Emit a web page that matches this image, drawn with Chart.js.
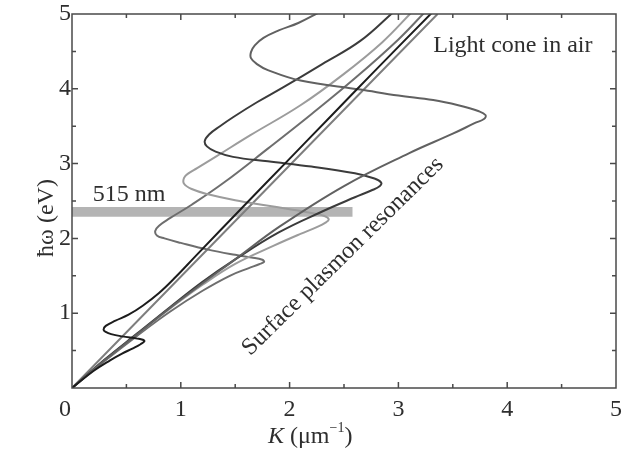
<!DOCTYPE html>
<html>
<head>
<meta charset="utf-8">
<script src="https://cdn.jsdelivr.net/npm/chart.js"></script>
<style>
  html, body { margin: 0; padding: 0; background: #fff; }
</style>
</head>
<body>
<canvas id="chart" width="632" height="460"></canvas>
<script>
// tick labels
const xTickLabels = ['1', '2', '3', '4', '5'];
const yTickLabels = ['1', '2', '3', '4', '5'];

// light cone in air
const lightConeK = [0, 3.36];
const lightConeE = [0, 5.0];

// resonance near 0.65 eV (black)
const blackK = [0, 0.2, 0.35, 0.46, 0.56, 0.63, 0.665, 0.65, 0.6, 0.46, 0.36, 0.31, 0.29, 0.31, 0.4, 0.52, 0.65, 0.8, 0.95, 1.14, 1.57, 1.97, 2.37, 2.77, 3.31];
const blackE = [0, 0.23, 0.37, 0.46, 0.53, 0.585, 0.625, 0.645, 0.66, 0.69, 0.72, 0.75, 0.78, 0.83, 0.9, 0.98, 1.1, 1.27, 1.48, 1.77, 2.42, 3.02, 3.62, 4.22, 5.02];

// resonance near 1.7 eV (medium gray)
const midK = [0, 0.3, 0.6, 0.9, 1.2, 1.45, 1.62, 1.72, 1.765, 1.75, 1.65, 1.5, 1.25, 1.0, 0.85, 0.78, 0.765, 0.8, 0.9, 1.1, 1.4, 1.8, 2.2, 2.6, 3.0, 3.24];
const midE = [0, 0.36, 0.7, 1.02, 1.3, 1.5, 1.6, 1.655, 1.685, 1.715, 1.745, 1.78, 1.85, 1.94, 2.0, 2.04, 2.1, 2.17, 2.27, 2.45, 2.75, 3.2, 3.66, 4.14, 4.66, 5.02];

// resonance near 2.3 eV (light gray)
const lightK = [0, 0.3, 0.6, 0.9, 1.2, 1.5, 1.85, 2.1, 2.25, 2.33, 2.36, 2.32, 2.2, 2.0, 1.79, 1.5, 1.25, 1.1, 1.03, 1.03, 1.07, 1.15, 1.33, 1.64, 2.1, 2.5, 2.85, 3.12];
const lightE = [0, 0.37, 0.72, 1.06, 1.38, 1.66, 1.9, 2.06, 2.15, 2.21, 2.255, 2.3, 2.34, 2.39, 2.44, 2.51, 2.59, 2.66, 2.73, 2.81, 2.87, 2.94, 3.1, 3.38, 3.78, 4.2, 4.62, 5.02];

// resonance near 2.7 eV (dark gray)
const darkK = [0, 0.3, 0.6, 0.9, 1.2, 1.5, 1.9, 2.3, 2.6, 2.75, 2.83, 2.84, 2.78, 2.6, 2.2, 1.8, 1.48, 1.32, 1.24, 1.22, 1.26, 1.36, 1.48, 1.7, 1.94, 2.3, 2.65, 2.95];
const darkE = [0, 0.38, 0.73, 1.08, 1.42, 1.72, 2.08, 2.36, 2.55, 2.64, 2.7, 2.75, 2.8, 2.87, 2.96, 3.03, 3.09, 3.16, 3.23, 3.3, 3.39, 3.5, 3.62, 3.82, 4.02, 4.33, 4.64, 5.02];

// resonance near 3.6 eV (gray)
const highK = [0, 0.3, 0.6, 0.9, 1.2, 1.5, 1.91, 2.5, 3.1, 3.5, 3.7, 3.79, 3.8, 3.74, 3.55, 3.32, 3.0, 2.65, 2.1, 1.8, 1.7, 1.645, 1.645, 1.68, 1.76, 1.9, 2.08, 2.27];
const highE = [0, 0.37, 0.72, 1.07, 1.4, 1.72, 2.16, 2.7, 3.14, 3.4, 3.54, 3.6, 3.65, 3.7, 3.78, 3.85, 3.91, 3.99, 4.11, 4.25, 4.33, 4.41, 4.49, 4.58, 4.68, 4.78, 4.88, 5.02];

// 515 nm laser line
const bandK = [0, 2.58];
const bandLow = [2.29, 2.29];
const bandHigh = [2.42, 2.42];

const SERIF = '"Liberation Serif", "DejaVu Serif", serif';

function pts(k, e) {
  return k.map((v, i) => ({ x: v, y: e[i] }));
}

function curve(k, e, color, order) {
  return {
    data: pts(k, e),
    showLine: true,
    borderColor: color,
    borderWidth: 2,
    pointRadius: 0,
    tension: 0.4,
    fill: false,
    order: order
  };
}

const deco = {
  id: 'deco',
  afterDraw(chart) {
    const { ctx, chartArea: a, scales: { x, y } } = chart;
    ctx.save();

    // frame + inward ticks on all four sides
    ctx.strokeStyle = '#4a4a4a';
    ctx.lineWidth = 1.5;
    ctx.strokeRect(a.left, a.top, a.right - a.left, a.bottom - a.top);
    ctx.beginPath();
    for (let i = 1; i < 10; i++) {
      const len = i % 2 ? 4 : 6;
      const px = x.getPixelForValue(i / 2);
      const py = y.getPixelForValue(i / 2);
      ctx.moveTo(px, a.bottom); ctx.lineTo(px, a.bottom - len);
      ctx.moveTo(px, a.top); ctx.lineTo(px, a.top + len);
      ctx.moveTo(a.left, py); ctx.lineTo(a.left + len, py);
      ctx.moveTo(a.right, py); ctx.lineTo(a.right - len, py);
    }
    ctx.stroke();

    ctx.fillStyle = '#2e2e2e';
    ctx.font = '24px ' + SERIF;

    // tick labels
    ctx.textAlign = 'center';
    ctx.textBaseline = 'middle';
    xTickLabels.forEach(t => ctx.fillText(t, x.getPixelForValue(+t), a.bottom + 22));
    ctx.textAlign = 'right';
    yTickLabels.forEach(t => ctx.fillText(t, a.left - 1, y.getPixelForValue(+t)));
    ctx.textAlign = 'center';
    ctx.fillText('0', a.left - 7, a.bottom + 22);

    // annotations
    ctx.textAlign = 'left';
    ctx.textBaseline = 'alphabetic';
    ctx.fillText('515 nm', x.getPixelForValue(0.19), y.getPixelForValue(2.5));
    ctx.fillText('Light cone in air', x.getPixelForValue(3.32), y.getPixelForValue(4.49));

    ctx.save();
    ctx.translate(x.getPixelForValue(2.49), y.getPixelForValue(1.76));
    ctx.rotate(-44.5 * Math.PI / 180);
    ctx.textAlign = 'center';
    ctx.textBaseline = 'middle';
    ctx.fillText('Surface plasmon resonances', 0, 0);
    ctx.restore();

    // y title
    ctx.save();
    ctx.translate(47, (a.top + a.bottom) / 2 + 17);
    ctx.rotate(-Math.PI / 2);
    ctx.textAlign = 'center';
    ctx.textBaseline = 'middle';
    ctx.fillText('\u0127\u03c9 (eV)', 0, 0);
    ctx.restore();

    // x title: K (μm^-1)
    let cx = 268;
    const by = 443;
    ctx.textAlign = 'left';
    ctx.textBaseline = 'alphabetic';
    ctx.font = 'italic 24px ' + SERIF;
    ctx.fillText('K', cx, by);
    cx += ctx.measureText('K').width;
    ctx.font = '24px ' + SERIF;
    ctx.fillText(' (\u03bcm', cx, by);
    cx += ctx.measureText(' (\u03bcm').width;
    ctx.font = '14px ' + SERIF;
    ctx.fillText('\u22121', cx, by - 11);
    cx += ctx.measureText('\u22121').width;
    ctx.font = '24px ' + SERIF;
    ctx.fillText(')', cx, by);

    ctx.restore();
  }
};

new Chart(document.getElementById('chart'), {
  type: 'scatter',
  data: {
    datasets: [
      curve(highK, highE, '#616161', 1),
      curve(darkK, darkE, '#3b3b3b', 1),
      curve(lightK, lightE, '#9c9c9c', 1),
      curve(midK, midE, '#6e6e6e', 1),
      curve(lightConeK, lightConeE, '#7e7e7e', 1),
      curve(blackK, blackE, '#1c1c1c', 0),
      {
        data: pts(bandK, bandLow),
        showLine: true, borderWidth: 0, pointRadius: 0, borderColor: 'rgba(0,0,0,0)',
        order: 5
      },
      {
        data: pts(bandK, bandHigh),
        showLine: true, borderWidth: 0, pointRadius: 0, borderColor: 'rgba(0,0,0,0)',
        backgroundColor: '#b4b4b4', fill: '-1',
        order: 5
      }
    ]
  },
  options: {
    responsive: false,
    animation: false,
    devicePixelRatio: 1,
    layout: { padding: { top: 14, right: 16, left: 0, bottom: 0 } },
    plugins: { legend: { display: false }, tooltip: { enabled: false } },
    scales: {
      x: {
        type: 'linear', min: 0, max: 5,
        grid: { display: false, drawTicks: false },
        border: { display: false },
        ticks: { display: false },
        afterFit(s) { s.height = 72; }
      },
      y: {
        type: 'linear', min: 0, max: 5,
        grid: { display: false, drawTicks: false },
        border: { display: false },
        ticks: { display: false },
        afterFit(s) { s.width = 72; }
      }
    }
  },
  plugins: [deco]
});
</script>
</body>
</html>
